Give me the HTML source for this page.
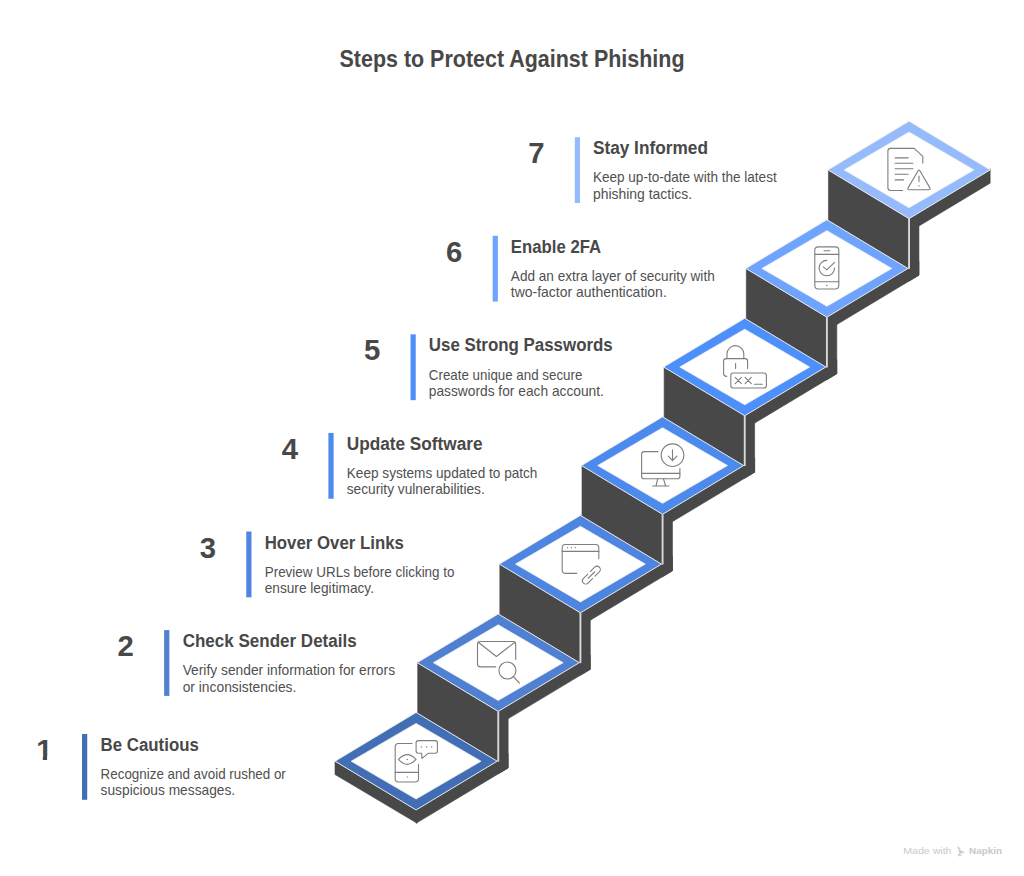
<!DOCTYPE html>
<html lang="en"><head><meta charset="utf-8"><title>Steps to Protect Against Phishing</title>
<style>
html,body{margin:0;padding:0;background:#fff}
body{width:1024px;height:876px;overflow:hidden}
svg{display:block}
svg text{font-family:"Liberation Sans",sans-serif}
</style></head><body>
<svg width="1024" height="876" viewBox="0 0 1024 876">
<defs><clipPath id="one"><path d="M28 730H62V756.4H47.1V764H42.8V756.4H28Z"/></clipPath></defs>
<rect width="1024" height="876" fill="#fff"/>
<text x="512" y="66.8" text-anchor="middle" font-size="23.4" font-weight="700" fill="#484848" textLength="345" lengthAdjust="spacingAndGlyphs">Steps to Protect Against Phishing</text>
<g fill="#484848" stroke="#484848" stroke-width="0.6" stroke-linejoin="round">
<polygon points="416.10,808.95 508.16,753.61 508.16,767.91 416.10,823.25"/>
<polygon points="335.00,761.20 417.10,809.95 417.10,823.25 335.00,774.50"/>
<polygon points="498.26,710.40 590.32,655.06 590.32,669.36 498.26,724.70"/>
<polygon points="498.26,710.40 508.16,704.45 508.16,767.91 498.26,773.86"/>
<polygon points="417.66,662.65 498.26,711.40 498.26,762.20 417.66,713.75"/>
<polygon points="580.42,611.85 672.48,556.51 672.48,570.81 580.42,626.15"/>
<polygon points="580.42,611.85 590.32,605.90 590.32,669.36 580.42,675.31"/>
<polygon points="499.82,564.10 580.42,612.85 580.42,663.65 499.82,615.20"/>
<polygon points="662.58,513.30 754.64,457.96 754.64,472.26 662.58,527.60"/>
<polygon points="662.58,513.30 672.48,507.35 672.48,570.81 662.58,576.76"/>
<polygon points="581.98,465.55 662.58,514.30 662.58,565.10 581.98,516.65"/>
<polygon points="744.74,414.75 836.80,359.41 836.80,373.71 744.74,429.05"/>
<polygon points="744.74,414.75 754.64,408.80 754.64,472.26 744.74,478.21"/>
<polygon points="664.14,367.00 744.74,415.75 744.74,466.55 664.14,418.10"/>
<polygon points="826.90,316.20 918.96,260.86 918.96,275.16 826.90,330.50"/>
<polygon points="826.90,316.20 836.80,310.25 836.80,373.71 826.90,379.66"/>
<polygon points="746.30,268.45 826.90,317.20 826.90,368.00 746.30,319.55"/>
<polygon points="909.06,217.65 990.16,168.90 990.16,183.20 909.06,231.95"/>
<polygon points="909.06,217.65 918.96,211.70 918.96,275.16 909.06,281.11"/>
<polygon points="828.46,169.90 909.06,218.65 909.06,269.45 828.46,221.00"/>
</g>
<g stroke="#d9d9d9" stroke-width="1.9">
<line x1="498.26" y1="711.40" x2="498.26" y2="761.70"/>
<line x1="580.42" y1="612.85" x2="580.42" y2="663.15"/>
<line x1="662.58" y1="514.30" x2="662.58" y2="564.60"/>
<line x1="744.74" y1="415.75" x2="744.74" y2="466.05"/>
<line x1="826.90" y1="317.20" x2="826.90" y2="367.50"/>
<line x1="909.06" y1="218.65" x2="909.06" y2="268.95"/>
</g>
<polygon points="416.10,712.45 497.20,761.20 416.10,809.95 335.00,761.20" fill="#426EB6" stroke="#ececec" stroke-width="1"/>
<polygon points="416.10,723.40 481.00,761.20 416.10,799.00 351.20,761.20" fill="#fff" stroke="#f1f1f1" stroke-width="0.8"/>
<polygon points="498.26,613.90 579.36,662.65 498.26,711.40 417.16,662.65" fill="#4F80D1" stroke="#ececec" stroke-width="1"/>
<polygon points="498.26,624.85 563.16,662.65 498.26,700.45 433.36,662.65" fill="#fff" stroke="#f1f1f1" stroke-width="0.8"/>
<polygon points="580.42,515.35 661.52,564.10 580.42,612.85 499.32,564.10" fill="#4D85E0" stroke="#ececec" stroke-width="1"/>
<polygon points="580.42,526.30 645.32,564.10 580.42,601.90 515.52,564.10" fill="#fff" stroke="#f1f1f1" stroke-width="0.8"/>
<polygon points="662.58,416.80 743.68,465.55 662.58,514.30 581.48,465.55" fill="#4C8AEE" stroke="#ececec" stroke-width="1"/>
<polygon points="662.58,427.75 727.48,465.55 662.58,503.35 597.68,465.55" fill="#fff" stroke="#f1f1f1" stroke-width="0.8"/>
<polygon points="744.74,318.25 825.84,367.00 744.74,415.75 663.64,367.00" fill="#4E90FB" stroke="#ececec" stroke-width="1"/>
<polygon points="744.74,329.20 809.64,367.00 744.74,404.80 679.84,367.00" fill="#fff" stroke="#f1f1f1" stroke-width="0.8"/>
<polygon points="826.90,219.70 908.00,268.45 826.90,317.20 745.80,268.45" fill="#6EA4FE" stroke="#ececec" stroke-width="1"/>
<polygon points="826.90,230.65 891.80,268.45 826.90,306.25 762.00,268.45" fill="#fff" stroke="#f1f1f1" stroke-width="0.8"/>
<polygon points="909.06,121.15 990.16,169.90 909.06,218.65 827.96,169.90" fill="#95BBFC" stroke="#ececec" stroke-width="1"/>
<polygon points="909.06,132.10 973.96,169.90 909.06,207.70 844.16,169.90" fill="#fff" stroke="#f1f1f1" stroke-width="0.8"/>
<g fill="none" stroke="#7e7e7e" stroke-width="1.1" stroke-linecap="round" stroke-linejoin="round">
<!-- 7: document + warning -->
<path d="M902.6 190.5H890.6Q887.9 190.5 887.9 187.8V151.1Q887.9 148.4 890.6 148.4H914.2L922.8 156.4V163.1"/>
<path d="M895.1 157.9H908.1M895.1 163.2H912.9M895.1 168.7H912.9M895.1 174.2H908.1M895.1 179.9H903.6"/>
<path d="M918.1 170.8Q919 169.2 919.9 170.8L929.9 187.9Q930.8 189.8 928.8 189.8H909.2Q907.2 189.8 908.1 187.9Z"/>
<path d="M919 176.1V181.6M919 185.5V186"/>
<!-- 6: phone + check -->
<rect x="814.8" y="246.9" width="24" height="42.1" rx="3.4"/>
<path d="M814.8 254.4H838.8M814.8 281.8H838.8M824 250.7H829.9M826.6 285.4H827"/>
<path d="M826.8 260.4A7.7 7.7 0 1 0 834.5 268.1"/>
<path d="M823.4 266.8L826.8 269.8L834.5 262.3"/>
<!-- 5: lock + password -->
<path d="M726.7 376.4Q723.6 376.4 723.6 373.6V361.2Q723.6 358.6 726.2 358.6H745Q747.6 358.6 747.6 361.2V368.5"/>
<path d="M727 358.6V354A8.4 8.4 0 0 1 743.8 354V358.6"/>
<path d="M735.6 363.4V368.5"/>
<rect x="730.8" y="373" width="35.6" height="15" rx="2.6"/>
<path d="M735.2 377.4L741.4 383.6M741.4 377.4L735.2 383.6M745.1 377.4L751.3 383.6M751.3 377.4L745.1 383.6M754.4 384.2H762.3"/>
<!-- 4: monitor + download -->
<path d="M658 451.6H644.2Q641.6 451.6 641.6 454.2V476.2Q641.6 478.8 644.2 478.8H677.3Q679.9 478.8 679.9 476.2V468.2"/>
<path d="M641.6 473.4H679.9M657.7 478.8L656 486M663.5 478.8L665.6 486M652.5 486H669"/>
<circle cx="672.5" cy="455.2" r="11.3"/>
<path d="M672.5 449.7V460.7M668.3 456.2L672.5 460.7L676.9 456.2"/>
<!-- 3: browser + link -->
<path d="M576.7 573.4H565.6Q562.2 573.4 562.2 570V547.7Q562.2 544.5 565.4 544.5H595.6Q598.8 544.5 598.8 547.7V558.7"/>
<path d="M562.2 551.4H598.8M567.4 547.6H567.7M571.3 547.6H571.6M575.1 547.6H575.4"/>
<g transform="translate(591.4 575.15) rotate(-45)">
<path d="M1.9 -3.3H7.9A3.3 3.3 0 0 1 7.9 3.3H1.9M-1.7 -3.3H-7.9A3.3 3.3 0 0 0 -7.9 3.3H-1.7M-4.7 0H4.8"/>
</g>
<!-- 2: envelope + magnifier -->
<path d="M495.7 666.9H480.4Q477.5 666.9 477.5 664V644.2Q477.5 641.5 480.2 641.5H513Q515.7 641.5 515.7 644.2V659.4"/>
<path d="M478.3 642.3L496.4 656.5L514.9 642.3"/>
<circle cx="507.4" cy="670.5" r="8.5"/>
<path d="M513.4 676.6L519.4 683"/>
<!-- 1: phone + eye + chat -->
<path d="M412 743.5H398.4Q395.2 743.5 395.2 746.7V778.8Q395.2 782 398.4 782H415.3Q418.5 782 418.5 778.8V764.2"/>
<path d="M395.2 772.4H418.5M407.2 777H407.6M407 759.4H407.4"/>
<path d="M398.5 759.4Q407.2 749.8 416 759.4Q407.2 769.4 398.5 759.4Z"/>
<path d="M421.6 753.3H418.3Q416.1 753.3 416.1 751.1V742.8Q416.1 740.6 418.3 740.6H435.2Q437.4 740.6 437.4 742.8V751.1Q437.4 753.3 435.2 753.3H428.1L422 758.4Z"/>
<path d="M421.2 746.9H421.6M426.3 746.9H426.7M431.5 746.9H431.9"/>
</g>

<rect x="82.02" y="734.00" width="5.2" height="65.8" fill="#426EB6"/>
<text x="44.30" y="760.00" text-anchor="middle" font-size="29.3" font-weight="700" fill="#484848" clip-path="url(#one)">1</text>
<text x="100.60" y="751.10" font-size="18.7" font-weight="700" fill="#484848" textLength="98.22" lengthAdjust="spacingAndGlyphs">Be Cautious</text>
<text x="100.60" y="779.20" font-size="13.9" fill="#505050" textLength="185.23" lengthAdjust="spacingAndGlyphs">Recognize and avoid rushed or</text>
<text x="100.60" y="795.40" font-size="13.9" fill="#505050" textLength="134.58" lengthAdjust="spacingAndGlyphs">suspicious messages.</text>
<rect x="164.15" y="630.10" width="5.2" height="65.8" fill="#4F80D1"/>
<text x="125.65" y="656.10" text-anchor="middle" font-size="29.3" font-weight="700" fill="#484848">2</text>
<text x="182.65" y="647.20" font-size="18.7" font-weight="700" fill="#484848" textLength="174.02" lengthAdjust="spacingAndGlyphs">Check Sender Details</text>
<text x="182.65" y="675.30" font-size="13.9" fill="#505050" textLength="212.41" lengthAdjust="spacingAndGlyphs">Verify sender information for errors</text>
<text x="182.65" y="691.50" font-size="13.9" fill="#505050" textLength="113.70" lengthAdjust="spacingAndGlyphs">or inconsistencies.</text>
<rect x="246.28" y="531.52" width="5.2" height="65.8" fill="#4D85E0"/>
<text x="207.80" y="557.52" text-anchor="middle" font-size="29.3" font-weight="700" fill="#484848">3</text>
<text x="264.70" y="548.62" font-size="18.7" font-weight="700" fill="#484848" textLength="139.17" lengthAdjust="spacingAndGlyphs">Hover Over Links</text>
<text x="264.70" y="576.72" font-size="13.9" fill="#505050" textLength="189.85" lengthAdjust="spacingAndGlyphs">Preview URLs before clicking to</text>
<text x="264.70" y="592.92" font-size="13.9" fill="#505050" textLength="109.28" lengthAdjust="spacingAndGlyphs">ensure legitimacy.</text>
<rect x="328.41" y="432.94" width="5.2" height="65.8" fill="#4C8AEE"/>
<text x="289.95" y="458.94" text-anchor="middle" font-size="29.3" font-weight="700" fill="#484848">4</text>
<text x="346.75" y="450.04" font-size="18.7" font-weight="700" fill="#484848" textLength="135.79" lengthAdjust="spacingAndGlyphs">Update Software</text>
<text x="346.75" y="478.14" font-size="13.9" fill="#505050" textLength="190.69" lengthAdjust="spacingAndGlyphs">Keep systems updated to patch</text>
<text x="346.75" y="494.34" font-size="13.9" fill="#505050" textLength="138.00" lengthAdjust="spacingAndGlyphs">security vulnerabilities.</text>
<rect x="410.54" y="334.36" width="5.2" height="65.8" fill="#4E90FB"/>
<text x="372.10" y="360.36" text-anchor="middle" font-size="29.3" font-weight="700" fill="#484848">5</text>
<text x="428.80" y="351.46" font-size="18.7" font-weight="700" fill="#484848" textLength="183.94" lengthAdjust="spacingAndGlyphs">Use Strong Passwords</text>
<text x="428.80" y="379.56" font-size="13.9" fill="#505050" textLength="153.60" lengthAdjust="spacingAndGlyphs">Create unique and secure</text>
<text x="428.80" y="395.76" font-size="13.9" fill="#505050" textLength="175.09" lengthAdjust="spacingAndGlyphs">passwords for each account.</text>
<rect x="492.67" y="235.78" width="5.2" height="65.8" fill="#6EA4FE"/>
<text x="454.25" y="261.78" text-anchor="middle" font-size="29.3" font-weight="700" fill="#484848">6</text>
<text x="510.85" y="252.88" font-size="18.7" font-weight="700" fill="#484848" textLength="90.25" lengthAdjust="spacingAndGlyphs">Enable 2FA</text>
<text x="510.85" y="280.98" font-size="13.9" fill="#505050" textLength="203.88" lengthAdjust="spacingAndGlyphs">Add an extra layer of security with</text>
<text x="510.85" y="297.18" font-size="13.9" fill="#505050" textLength="155.92" lengthAdjust="spacingAndGlyphs">two-factor authentication.</text>
<rect x="574.80" y="137.20" width="5.2" height="65.8" fill="#95BBFC"/>
<text x="536.40" y="163.20" text-anchor="middle" font-size="29.3" font-weight="700" fill="#484848">7</text>
<text x="592.90" y="154.30" font-size="18.7" font-weight="700" fill="#484848" textLength="115.03" lengthAdjust="spacingAndGlyphs">Stay Informed</text>
<text x="592.90" y="182.40" font-size="13.9" fill="#505050" textLength="183.82" lengthAdjust="spacingAndGlyphs">Keep up-to-date with the latest</text>
<text x="592.90" y="198.60" font-size="13.9" fill="#505050" textLength="99.22" lengthAdjust="spacingAndGlyphs">phishing tactics.</text>
<g fill="#c9c9c9" font-size="9.6">
<text x="903.2" y="853.8" textLength="48.3" lengthAdjust="spacingAndGlyphs">Made with</text>
<path d="M957.2 846l3.6 2.6-2.6 1.5zM958.2 849.3l6.9 3-5.6 1.6zM957.6 853.7l5.2 1.2-4.2 1.7z" fill="#cdcdcd"/>
<text x="969" y="853.8" font-weight="700" textLength="33" lengthAdjust="spacingAndGlyphs">Napkin</text>
</g>
</svg>
</body></html>
